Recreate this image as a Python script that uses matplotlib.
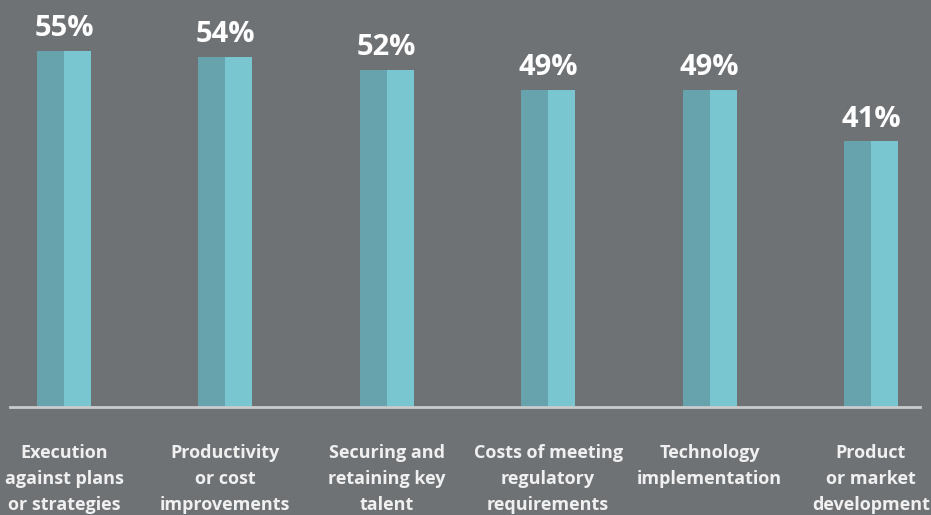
import matplotlib
matplotlib.use('Agg')
import matplotlib.pyplot as plt
import numpy as np

categories = ['Execution\nagainst plans\nor strategies', 'Productivity\nor cost\nimprovements',
              'Securing and\nretaining key\ntalent', 'Costs of meeting\nregulatory\nrequirements',
              'Technology\nimplementation', 'Product\nor market\ndevelopment']
values = [55, 54, 52, 49, 49, 41]

bg = '#6f7275'
dark = '#66a3ad'
light = '#79c6d1'

plt.rcParams['font.family'] = ['Open Sans', 'DejaVu Sans']

fig = plt.figure(figsize=(9.31, 5.15), dpi=100, facecolor=bg)
ax = fig.add_axes([0, 0, 1, 1])
ax.set_facecolor(bg)

x = np.arange(len(values))
w = 0.335
ax.bar(x - w / 4, values, width=w / 2, color=dark)
ax.bar(x + w / 4, values, width=w / 2, color=light)
ax.axhline(0, xmin=0.011, xmax=0.988, color='#c9cbcc', lw=2)

for xi, v in zip(x, values):
    ax.text(xi, v + 1.2, f'{v}%', ha='center', va='bottom', color='white',
            fontsize=21, fontweight='bold')

for xi, c in zip(x, categories):
    ax.text(xi, -5.7, c, ha='center', va='top', color='#f0f0f0',
            fontsize=13, fontweight='bold', linespacing=1.55)

ax.set_xlim(-0.3965, 5.372)
ax.set_ylim(-16.6, 62.8)
ax.axis('off')

fig.savefig('out.png', dpi=100, facecolor=bg)
